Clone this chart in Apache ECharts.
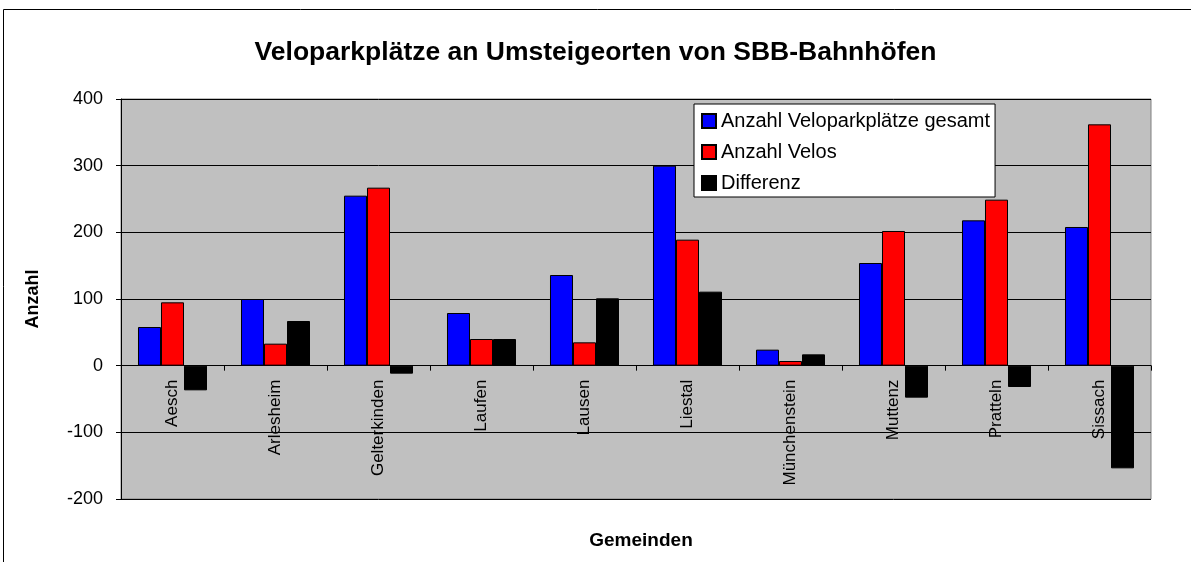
<!DOCTYPE html>
<html>
<head>
    <meta charset="UTF-8">
    <script src="https://cdn.jsdelivr.net/npm/echarts@6.0.0/dist/echarts.min.js"></script>
    <style>
        html, body { margin: 0; padding: 0; background: #fff; }
        #chart { width: 1191px; height: 562px; }
    </style>
</head>
<body>
<div id="chart"></div>
<script>
    // Daten
    var gemeinden = ['Aesch', 'Arlesheim', 'Gelterkinden', 'Laufen', 'Lausen', 'Liestal',
        'Münchenstein', 'Muttenz', 'Pratteln', 'Sissach'];
    var parkplaetze = [58, 100, 255, 79, 136, 300, 24, 154, 218, 208];
    var velos = [95, 33, 267, 40, 35, 189, 7, 202, 249, 362];
    var differenz = [-37, 67, -12, 40, 101, 111, 17, -48, -32, -154];
    var yTicks = [-200, -100, 0, 100, 200, 300, 400];

    var font = 'Liberation Sans, Arial, sans-serif';
    var chart = echarts.init(document.getElementById('chart'), null, { renderer: 'canvas' });

    var gridTop = 99, gridHeight = 400;
    var yMin = yTicks[0], yMax = yTicks[yTicks.length - 1];
    // Kategorienachse auf die Nulllinie schieben
    var zeroOffset = -gridHeight * (0 - yMin) / (yMax - yMin);

    function bar(name, data, color) {
        return {
            name: name,
            type: 'bar',
            data: data,
            barGap: '0%',
            barCategoryGap: '33%',
            itemStyle: { color: color, borderColor: '#000', borderWidth: 1 }
        };
    }

    var option = {
        animation: false,
        backgroundColor: '#fff',
        textStyle: { fontFamily: font },
        graphic: [{
            type: 'rect',
            shape: { x: 3.5, y: 9.5, width: 1300, height: 700 },
            style: { fill: 'none', stroke: '#000', lineWidth: 1 },
            silent: true
        }],
        title: [{
            text: 'Veloparkplätze an Umsteigeorten von SBB-Bahnhöfen',
            left: 'center',
            top: 34,
            textStyle: { fontFamily: font, fontSize: 26.5, fontWeight: 'bold', color: '#000' }
        }, {
            text: 'Gemeinden',
            left: 636,
            textAlign: 'center',
            top: 526,
            textStyle: { fontFamily: font, fontSize: 19, fontWeight: 'bold', color: '#000' }
        }],
        legend: {
            orient: 'vertical',
            left: 694,
            top: 104,
            padding: [7, 5, 4, 7],
            icon: 'rect',
            itemWidth: 14,
            itemHeight: 14,
            itemGap: 11,
            backgroundColor: '#fff',
            borderColor: '#000',
            borderWidth: 1,
            textStyle: { fontFamily: font, fontSize: 20, color: '#000' }
        },
        grid: {
            left: 121,
            top: gridTop,
            width: 1030,
            height: gridHeight,
            outerBoundsMode: 'none',
            containLabel: false,
            show: true,
            backgroundColor: '#c0c0c0',
            borderColor: '#808080',
            borderWidth: 1
        },
        xAxis: {
            type: 'category',
            data: gemeinden,
            position: 'bottom',
            offset: zeroOffset,
            axisLine: { onZero: false, lineStyle: { color: '#000', width: 1 } },
            axisTick: { show: true, length: 5, lineStyle: { color: '#000' } },
            axisLabel: { rotate: 90, margin: 14, fontSize: 17, color: '#000', fontFamily: font }
        },
        yAxis: {
            type: 'value',
            min: yMin,
            max: yMax,
            interval: 100,
            name: 'Anzahl',
            nameLocation: 'middle',
            nameGap: 79,
            nameTextStyle: { fontFamily: font, fontSize: 18, fontWeight: 'bold', color: '#000' },
            axisLine: { show: true, lineStyle: { color: '#000' } },
            axisTick: { show: true, length: 5, lineStyle: { color: '#000' } },
            axisLabel: { fontSize: 18, color: '#000', margin: 18, fontFamily: font },
            splitLine: { show: true, lineStyle: { color: '#000', width: 1 } }
        },
        series: [
            bar('Anzahl Veloparkplätze gesamt', parkplaetze, '#0000ff'),
            bar('Anzahl Velos', velos, '#ff0000'),
            bar('Differenz', differenz, '#000000')
        ]
    };

    chart.setOption(option);
</script>
</body>
</html>
